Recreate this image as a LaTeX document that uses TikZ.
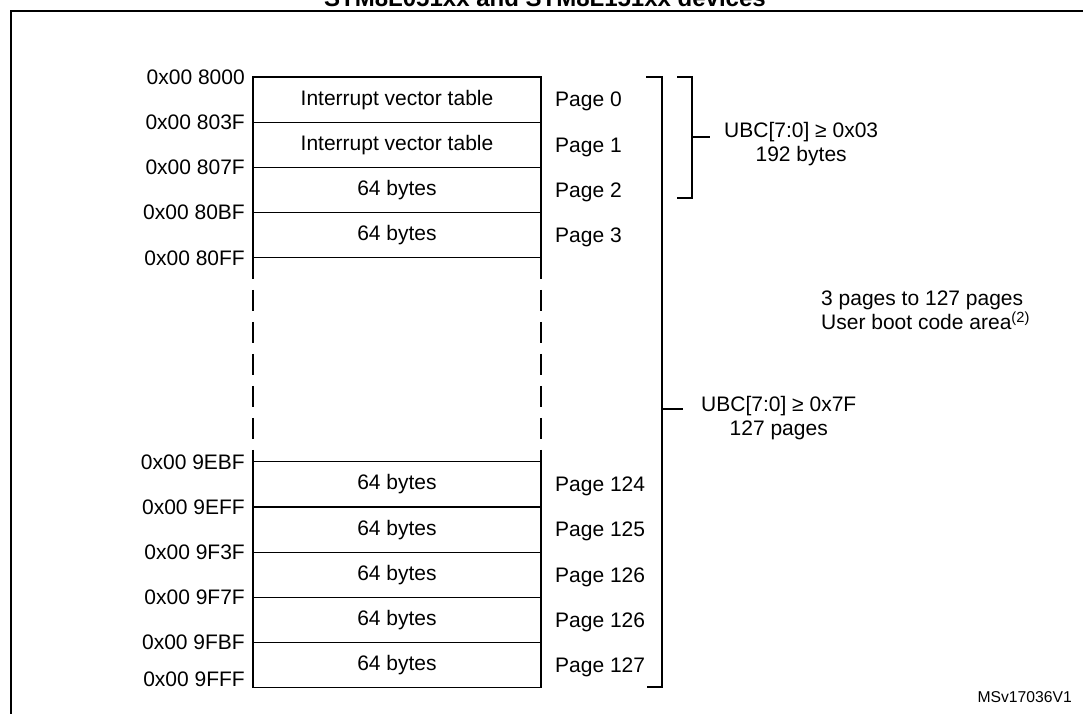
\documentclass[tikz,border=0pt]{standalone}
\usepackage{fontspec}
\setmainfont{Liberation Sans}
\usetikzlibrary{positioning}
\tikzset{
x=1pt, y=-1pt, % one unit is one pixel of the sketch, y grows downwards
every node/.style={font=\fontsize{21}{24}\selectfont}, % text size of all labels
memrow/.style={draw, line width=1.2pt, outer sep=0pt, inner sep=0pt, minimum width=288pt, minimum height=45.2pt}, % one page of the flash
addr/.style={anchor=east, inner sep=0pt, xshift=-8pt}, % address at the left of a page border
pagelbl/.style={anchor=west, inner sep=0pt, xshift=14pt, text depth=0pt}, % page number at the right
note/.style={inner sep=0pt, align=center}, % text next to a bracket
brace/.style={line width=1.2pt}, % the square brackets
gapline/.style={line width=1.2pt, dash pattern=on 21pt off 11pt}, % pages left out
}

\begin{document}
\begin{tikzpicture}
    \useasboundingbox (0,0) rectangle (1083,713);
    % frame and title, cut at the edge
    \draw[line width=2.5pt] (11,730) -- (11,11) -- (1100,11);
    \node[font=\bfseries\fontsize{24}{24}\selectfont, anchor=base] (title) at (545,6) {STM8L051xx and STM8L151xx devices};
    % the pages
    \node[memrow] (r0) at (397,99.6) {Interrupt vector table};
    \node[memrow, below=0pt of r0] (r1) {Interrupt vector table};
    \node[memrow, below=0pt of r1] (r2) {64 bytes};
    \node[memrow, below=0pt of r2] (r3) {64 bytes};
    \node[memrow, below=204pt of r3] (r4) {64 bytes};
    \node[memrow, below=0pt of r4] (r5) {64 bytes};
    \node[memrow, below=0pt of r5] (r6) {64 bytes};
    \node[memrow, below=0pt of r6] (r7) {64 bytes};
    \node[memrow, below=0pt of r7] (r8) {64 bytes};
    \draw[gapline] (r3.south west) -- (r4.north west)
    (r3.south east) -- (r4.north east);
    % addresses
    \node[addr] (a0) at (r0.north west) {0x00 8000};
    \node[addr] (a1) at (r1.north west) {0x00 803F};
    \node[addr] (a2) at (r2.north west) {0x00 807F};
    \node[addr] (a3) at (r3.north west) {0x00 80BF};
    \node[addr] (a4) at (r3.south west) {0x00 80FF};
    \node[addr] (a5) at (r4.north west) {0x00 9EBF};
    \node[addr] (a6) at (r5.north west) {0x00 9EFF};
    \node[addr] (a7) at (r6.north west) {0x00 9F3F};
    \node[addr] (a8) at (r7.north west) {0x00 9F7F};
    \node[addr] (a9) at (r8.north west) {0x00 9FBF};
    \node[addr, yshift=9pt] (a10) at (r8.south west) {0x00 9FFF};
    % page numbers
    \node[pagelbl] (p0) at (r0.east) {Page 0};
    \node[pagelbl] (p1) at (r1.east) {Page 1};
    \node[pagelbl] (p2) at (r2.east) {Page 2};
    \node[pagelbl] (p3) at (r3.east) {Page 3};
    \node[pagelbl] (p124) at (r4.east) {Page 124};
    \node[pagelbl] (p125) at (r5.east) {Page 125};
    \node[pagelbl] (p126) at (r6.east) {Page 126};
    \node[pagelbl] (p126b) at (r7.east) {Page 126};
    \node[pagelbl] (p127) at (r8.east) {Page 127};
    % brackets
    \draw[brace] (646,77) -- (662,77) -- (662,687) -- (647,687);
    \draw[brace] (662,409) -- (683,409) coordinate (tipb);
    \draw[brace] (677,77) -- (692,77) -- (692,198) -- (677,198);
    \draw[brace] (692,137) -- (710,137) coordinate (tips);
    \node[note, right=14pt of tips, yshift=-7pt] (ubcs) {UBC[7:0] ≥ 0x03\\192 bytes};
    \node[note, right=18pt of tipb, yshift=-9pt] (ubcb) {UBC[7:0] ≥ 0x7F\\127 pages};
    \node[note, align=left, anchor=west] (area) at (821,310.5) {3 pages to 127 pages\\User boot code area\textsuperscript{(2)}};
    \node[font=\fontsize{15.7}{18}\selectfont, anchor=east, inner sep=0pt] (msv) at (1072,697) {MSv17036V1};
\end{tikzpicture}
\end{document}
